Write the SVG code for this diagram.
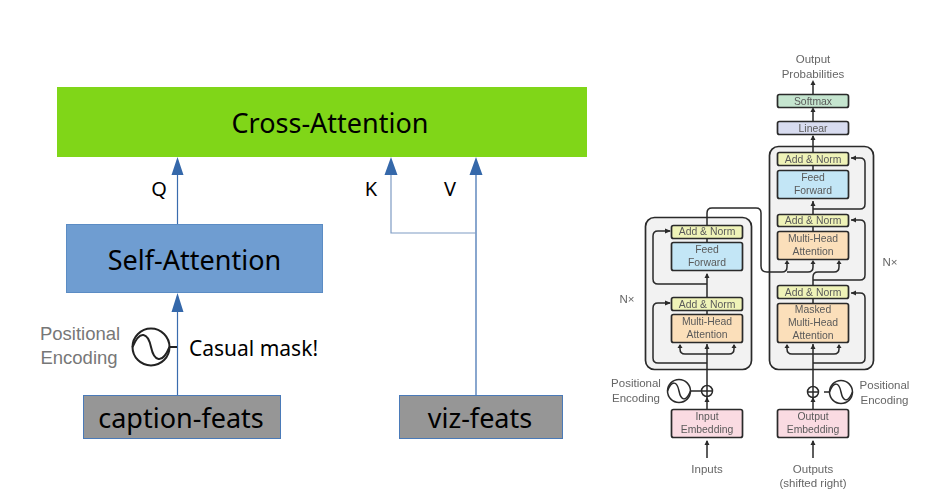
<svg xmlns="http://www.w3.org/2000/svg" width="930" height="504" viewBox="0 0 930 504">
<style>
.big{font-family:"Noto Sans","Open Sans",sans-serif;font-size:27px;fill:#000;text-anchor:middle}
.lab{font-family:"Noto Sans","Open Sans",sans-serif;font-size:20px;fill:#000;text-anchor:middle}
.cm{font-family:"Noto Sans","Open Sans",sans-serif;font-size:21px;fill:#000;text-anchor:middle}
.pe{font-family:"Liberation Sans",Arial,sans-serif;font-size:18.5px;fill:#777;text-anchor:middle}
.t{font-family:"Liberation Sans",Arial,sans-serif;font-size:11.5px;fill:#666;text-anchor:middle}
.i{font-family:"Liberation Sans",Arial,sans-serif;font-size:10.4px;fill:#5a5a5a;text-anchor:middle}
.b{stroke:#2a2a2a;stroke-width:1.7}
.c{fill:#f2f2f2;stroke:#2a2a2a;stroke-width:1.7}
.w{fill:none;stroke:#2a2a2a;stroke-width:1.5}
.l{fill:none;stroke:#3a6cae;stroke-width:1.2}
.l2{fill:none;stroke:#7f9cc4;stroke-width:1.2}
.h{fill:#3568aa}
.a{fill:#2a2a2a}
.disc{fill:#fff;stroke:#2a2a2a;stroke-width:1.5}
.s2{fill:none;stroke:#222;stroke-width:2}
.soft{filter:url(#soft)}
</style>
<defs>
<filter id="soft" x="-5%" y="-5%" width="110%" height="110%"><feGaussianBlur stdDeviation="0.4"/></filter>
</defs>
<rect width="930" height="504" fill="#fff"/>

<g id="cross-attention"><rect x="57" y="87" width="530" height="70" fill="#80d618"/><text class="big" x="330" y="133">Cross-Attention</text></g>
<g id="self-attention"><rect x="66.500" y="224.500" width="256" height="68" fill="#6f9dd1" stroke="#5b8cc4"/><text class="big" x="194.500" y="270">Self-Attention</text></g>
<g id="caption-feats"><rect x="83.500" y="395.500" width="197" height="43" fill="#969696" stroke="#4a7ab8"/><text class="big" x="181" y="428">caption-feats</text></g>
<g id="viz-feats"><rect x="399.500" y="395.500" width="163" height="43" fill="#969696" stroke="#4a7ab8"/><text class="big" x="480" y="428">viz-feats</text></g>

<g class="soft">
<g id="decoder-box"><rect class="c" x="769.500" y="146.500" width="104" height="223" rx="9"/></g>
<g id="encoder-box"><rect class="c" x="645.500" y="217.500" width="106" height="152" rx="9"/></g>
</g>

<g id="connectors">
<path class="l" d="M177.500 224V160"/>
<path class="l" d="M177.500 395V296"/>
<path class="l" d="M476 395V160"/>
<path class="l2" d="M476 233H391V160"/>
<path class="h" d="M171.500 175L177.500 157L183.500 175Z M171.500 312L177.500 293L183.500 312Z M384.500 175L391 157L397.500 175Z M469.500 175L476 157L482.500 175Z"/>
<g class="soft">
<path class="w" d="M813 94V84M813 121V109M813 152V136M813 165V170M813 226V231M813 298V303M707 238V242M707 310V314"/>
<path class="w" d="M813 214V201M707 297V274"/>
<path class="w" d="M813 209H860Q865 209 865 204V163Q865 158 860 158H851"/>
<path class="w" d="M813 280H860Q865 280 865 275V225Q865 220 860 220H851"/>
<path class="w" d="M813 285V277Q813 272 818 272H834Q839 272 839 267V262"/>
<path class="w" d="M813 363H860Q865 363 865 358V298Q865 293 860 293H851"/>
<path class="w" d="M813 409V398M813 386V344"/>
<path class="w" d="M707 409V397M707 385V344"/>
<path class="w" d="M813 458V441M707 458V441"/>
<path class="w" d="M707 363H658Q653 363 653 358V308Q653 303 658 303H670"/>
<path class="w" d="M707 284H658Q653 284 653 279V236Q653 231 658 231H670"/>
<path class="w" d="M680 345V349Q680 354 685 354H729Q734 354 734 349V345"/>
<path class="w" d="M787 345V349Q787 354 792 354H834Q839 354 839 349V345"/>
<path class="w" d="M707 225V213Q707 208 712 208H756Q761 208 761 213V266Q761 272 767 272H782Q787 272 787 267V262"/>
<path class="w" d="M787 272H808Q813 272 813 267V262"/>
<path class="w" d="M690 391H701M824 392H830"/>
<path class="a" d="M810.500 85L813 80L815.500 85Z M810.500 112L813 107L815.500 112Z M810.500 140L813 135L815.500 140Z M810.500 206L813 201L815.500 206Z M704.500 278L707 273L709.500 278Z M856 155.500L851 158L856 160.500Z M856 217.500L851 220L856 222.500Z M856 290.500L851 293L856 295.500Z M665 300.500L671 303L665 305.500Z M665 228.500L671 231L665 233.500Z M810.500 349L813 344L815.500 349Z M704.500 349L707 344L709.500 349Z M810.500 402L813 397L815.500 402Z M704.500 402L707 397L709.500 402Z M810.500 445L813 440L815.500 445Z M704.500 445L707 440L709.500 445Z M677.500 348L680 344L682.500 348Z M731.500 348L734 344L736.500 348Z M784.500 348L787 344L789.500 348Z M836.500 348L839 344L841.500 348Z M784.500 264L787 260L789.500 264Z M810.500 264L813 260L815.500 264Z M836.500 264L839 260L841.500 264Z"/>
</g>
</g>

<g id="pos-enc-left"><text class="pe" x="80" y="340">Positional</text><text class="pe" x="79" y="364">Encoding</text><circle class="s2" cx="151" cy="347" r="18.500"/><path class="s2" d="M132.500 347C140 329 148 333 151 347C154 361 162 365 169.500 347"/><path class="s2" d="M169.500 347H177"/></g>
<text class="cm" x="253.500" y="356">Casual mask!</text>
<text class="lab" x="159" y="196">Q</text>
<text class="lab" x="371" y="196">K</text>
<text class="lab" x="450" y="196">V</text>

<g class="soft">
<text class="t" x="813" y="63">Output</text>
<text class="t" x="813" y="78">Probabilities</text>
<g id="softmax"><rect class="b" x="777.500" y="94.500" width="71" height="13" rx="2" fill="#c5e5cf"/><text class="i" x="813" y="105">Softmax</text></g>
<g id="linear"><rect class="b" x="777.500" y="121.500" width="71" height="13" rx="2" fill="#d8dcf0"/><text class="i" x="813" y="132">Linear</text></g>
<g id="dec-norm3"><rect class="b" x="777.500" y="152.500" width="71" height="13" rx="2" fill="#eff3b8"/><text class="i" x="813" y="163">Add &amp; Norm</text></g>
<g id="dec-ff"><rect class="b" x="777.500" y="170.500" width="71" height="28" rx="2" fill="#c3e6f6"/><text class="i" x="813" y="181">Feed</text><text class="i" x="813" y="194">Forward</text></g>
<g id="dec-norm2"><rect class="b" x="777.500" y="214.500" width="71" height="12" rx="2" fill="#eff3b8"/><text class="i" x="813" y="224">Add &amp; Norm</text></g>
<g id="dec-mha"><rect class="b" x="777.500" y="231.500" width="71" height="28" rx="2" fill="#fbdfba"/><text class="i" x="813" y="242">Multi-Head</text><text class="i" x="813" y="255">Attention</text></g>
<g id="dec-norm1"><rect class="b" x="777.500" y="285.500" width="71" height="13" rx="2" fill="#eff3b8"/><text class="i" x="813" y="296">Add &amp; Norm</text></g>
<g id="dec-masked"><rect class="b" x="777.500" y="303.500" width="71" height="39" rx="2" fill="#fbdfba"/><text class="i" x="813" y="313">Masked</text><text class="i" x="813" y="326">Multi-Head</text><text class="i" x="813" y="339">Attention</text></g>
<g id="enc-norm2"><rect class="b" x="671.500" y="225.500" width="71" height="13" rx="2" fill="#eff3b8"/><text class="i" x="707" y="235">Add &amp; Norm</text></g>
<g id="enc-ff"><rect class="b" x="671.500" y="242.500" width="71" height="28" rx="2" fill="#c3e6f6"/><text class="i" x="707" y="253">Feed</text><text class="i" x="707" y="266">Forward</text></g>
<g id="enc-norm1"><rect class="b" x="671.500" y="297.500" width="71" height="13" rx="2" fill="#eff3b8"/><text class="i" x="707" y="308">Add &amp; Norm</text></g>
<g id="enc-mha"><rect class="b" x="671.500" y="314.500" width="71" height="28" rx="2" fill="#fbdfba"/><text class="i" x="707" y="325">Multi-Head</text><text class="i" x="707" y="338">Attention</text></g>
<g id="input-embedding"><rect class="b" x="671.500" y="409.500" width="71" height="28" rx="2" fill="#fadbe2"/><text class="i" x="707" y="420">Input</text><text class="i" x="707" y="433">Embedding</text></g>
<g id="output-embedding"><rect class="b" x="777.500" y="409.500" width="71" height="28" rx="2" fill="#fadbe2"/><text class="i" x="813" y="420">Output</text><text class="i" x="813" y="433">Embedding</text></g>
<g id="plus-left"><circle class="disc" cx="707" cy="391" r="5.500"/><path class="w" d="M701.500 391H712.500M707 385.500V396.500"/></g>
<g id="plus-right"><circle class="disc" cx="813" cy="392" r="5.500"/><path class="w" d="M807.500 392H818.500M813 386.500V397.500"/></g>
<g id="sine-left"><circle class="disc" cx="679" cy="391" r="11.500"/><path class="w" d="M667.500 391C672 380 677 381 679 391C681 401 686 402 690.500 391"/></g>
<g id="sine-right"><circle class="disc" cx="841" cy="392" r="11.500"/><path class="w" d="M829.500 392C834 381 839 382 841 392C843 402 848 403 852.500 392"/></g>
<text class="t" x="636" y="387">Positional</text><text class="t" x="636" y="402">Encoding</text>
<text class="t" x="884.500" y="389">Positional</text><text class="t" x="884.500" y="404">Encoding</text>
<text class="t" x="627" y="303">N×</text><text class="t" x="890" y="266">N×</text>
<text class="t" x="707" y="473">Inputs</text>
<text class="t" x="813" y="473">Outputs</text>
<text class="t" x="813" y="487">(shifted right)</text>
</g>
</svg>
